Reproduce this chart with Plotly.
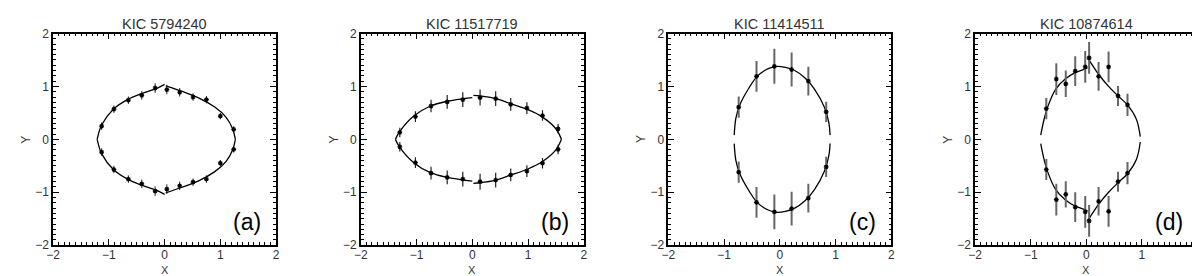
import plotly.graph_objects as go

titles = ["KIC 5794240", "KIC 11517719", "KIC 11414511", "KIC 10874614"]
labels = ["(a)", "(b)", "(c)", "(d)"]

# ---- panel (a) ----
a_x = [-1.13, -0.91, -0.65, -0.41, -0.17, 0.04, 0.27, 0.51, 0.75, 1.00, 1.24,
       -1.13, -0.91, -0.65, -0.41, -0.17, 0.04, 0.27, 0.51, 0.75, 1.00, 1.24]
a_y = [0.25, 0.57, 0.74, 0.83, 0.97, 0.94, 0.89, 0.80, 0.75, 0.44, 0.19,
       -0.24, -0.57, -0.75, -0.84, -0.98, -0.94, -0.88, -0.81, -0.75, -0.45, -0.19]
a_err = [0.07, 0.07, 0.07, 0.08, 0.09, 0.09, 0.08, 0.07, 0.07, 0.06, 0.06,
         0.07, 0.07, 0.07, 0.08, 0.09, 0.09, 0.08, 0.07, 0.07, 0.06, 0.06]
a_cx = [[-1.21, -1.13, -0.92, -0.65, -0.40, -0.15, 0.00],
        [0.02, 0.30, 0.60, 0.90, 1.10, 1.22, 1.27],
        [-1.21, -1.13, -0.92, -0.65, -0.40, -0.15, 0.00],
        [0.02, 0.30, 0.60, 0.90, 1.10, 1.22, 1.27]]
a_cy = [[0.00, 0.27, 0.57, 0.76, 0.87, 0.96, 1.04],
        [1.01, 0.91, 0.79, 0.61, 0.42, 0.20, 0.00],
        [0.00, -0.27, -0.57, -0.76, -0.87, -0.96, -1.04],
        [-1.01, -0.91, -0.79, -0.61, -0.42, -0.20, 0.00]]

# ---- panel (b) ----
b_x = [-1.30, -1.02, -0.74, -0.45, -0.17, 0.14, 0.42, 0.69, 0.98, 1.26, 1.54,
       -1.30, -1.02, -0.74, -0.45, -0.17, 0.14, 0.42, 0.69, 0.98, 1.26, 1.54]
b_y = [0.13, 0.43, 0.63, 0.71, 0.75, 0.79, 0.77, 0.66, 0.59, 0.45, 0.20,
       -0.14, -0.44, -0.64, -0.72, -0.75, -0.80, -0.77, -0.67, -0.60, -0.45, -0.19]
b_err = [0.09, 0.10, 0.12, 0.13, 0.14, 0.15, 0.14, 0.12, 0.11, 0.10, 0.09,
         0.09, 0.10, 0.12, 0.13, 0.14, 0.15, 0.14, 0.12, 0.11, 0.10, 0.09]
b_cx = [[-1.38, -1.30, -1.05, -0.75, -0.45, -0.15, 0.00],
        [0.02, 0.14, 0.42, 0.70, 1.00, 1.26, 1.50, 1.60],
        [-1.38, -1.30, -1.05, -0.75, -0.45, -0.15, 0.00],
        [0.02, 0.14, 0.42, 0.70, 1.00, 1.26, 1.50, 1.60]]
b_cy = [[0.00, 0.15, 0.44, 0.63, 0.72, 0.77, 0.79],
        [0.83, 0.82, 0.77, 0.67, 0.56, 0.42, 0.20, 0.00],
        [0.00, -0.15, -0.44, -0.63, -0.72, -0.77, -0.79],
        [-0.83, -0.82, -0.77, -0.67, -0.56, -0.42, -0.20, 0.00]]

# ---- panel (c) ----
c_x = [-0.74, -0.42, -0.10, 0.21, 0.51, 0.83,
       -0.74, -0.42, -0.10, 0.21, 0.51, 0.83]
c_y = [0.61, 1.19, 1.38, 1.32, 1.10, 0.52,
       -0.62, -1.19, -1.37, -1.31, -1.11, -0.52]
c_err = [0.20, 0.29, 0.33, 0.32, 0.27, 0.19,
         0.20, 0.29, 0.33, 0.32, 0.27, 0.19]
c_cx = [[-0.82, -0.79, -0.72, -0.55, -0.40, -0.20, -0.05, 0.10, 0.25, 0.45, 0.62, 0.80, 0.88, 0.90],
        [-0.82, -0.79, -0.72, -0.55, -0.40, -0.20, -0.05, 0.10, 0.25, 0.45, 0.62, 0.80, 0.88, 0.90]]
c_cy = [[0.08, 0.40, 0.65, 0.98, 1.20, 1.34, 1.38, 1.36, 1.31, 1.16, 0.95, 0.60, 0.30, 0.08],
        [-0.08, -0.40, -0.65, -0.98, -1.20, -1.34, -1.38, -1.36, -1.31, -1.16, -0.95, -0.60, -0.30, -0.08]]

# ---- panel (d) ----
d_x = [-0.72, -0.54, -0.37, -0.20, -0.02, 0.05, 0.22, 0.40, 0.57, 0.74,
       -0.72, -0.54, -0.37, -0.20, -0.02, 0.05, 0.22, 0.40, 0.57, 0.74]
d_y = [0.58, 1.14, 1.05, 1.29, 1.37, 1.54, 1.19, 1.37, 0.82, 0.65,
       -0.57, -1.14, -1.04, -1.28, -1.37, -1.54, -1.17, -1.36, -0.80, -0.64]
d_err = [0.20, 0.30, 0.25, 0.28, 0.30, 0.30, 0.27, 0.29, 0.19, 0.21,
         0.20, 0.30, 0.25, 0.28, 0.30, 0.30, 0.27, 0.29, 0.19, 0.21]
d_cx = [[-0.82, -0.76, -0.70, -0.55, -0.38, -0.20, -0.02, 0.02],
        [0.03, 0.22, 0.40, 0.57, 0.74, 0.90, 0.97],
        [-0.82, -0.76, -0.70, -0.55, -0.38, -0.20, -0.02, 0.02],
        [0.03, 0.22, 0.40, 0.57, 0.74, 0.90, 0.97]]
d_cy = [[0.08, 0.38, 0.60, 0.95, 1.14, 1.26, 1.33, 1.35],
        [1.53, 1.23, 1.00, 0.82, 0.65, 0.38, 0.05],
        [-0.08, -0.38, -0.60, -0.95, -1.14, -1.26, -1.33, -1.35],
        [-1.53, -1.23, -1.00, -0.82, -0.65, -0.38, -0.05]]

tick_vals = [-2, -1, 0, 1, 2]
tick_text = ["\u22122", "\u22121", "0", "1", "2"]

panels = [
    (a_x, a_y, a_err, a_cx, a_cy, "#222222", 1.0),
    (b_x, b_y, b_err, b_cx, b_cy, "#222222", 1.2),
    (c_x, c_y, c_err, c_cx, c_cy, "#666666", 2.0),
    (d_x, d_y, d_err, d_cx, d_cy, "#666666", 2.0),
]

W, H = 1200, 276
x_dom_px = [(38.5, 263.5), (349, 574), (659.5, 884.5), (969, 1193.5)]
y_dom_px = (19.5, 242.5)
y_dom = [(H - y_dom_px[1]) / H, (H - y_dom_px[0]) / H]

fig = go.Figure()
font = "Liberation Sans, Arial, sans-serif"

for i, (px, py, perr, cxs, cys, ecol, ethk) in enumerate(panels):
    n = "" if i == 0 else str(i + 1)
    xa, ya = "x" + n, "y" + n
    for cx, cy in zip(cxs, cys):
        fig.add_trace(go.Scatter(x=cx, y=cy, mode="lines", xaxis=xa, yaxis=ya,
                                 line=dict(color="black", width=1.3, shape="spline", smoothing=1.0),
                                 showlegend=False, hoverinfo="skip"))
    fig.add_trace(go.Scatter(
        x=px, y=py, mode="markers", xaxis=xa, yaxis=ya, showlegend=False,
        marker=dict(symbol="asterisk-open", size=4, color="black", line=dict(color="black", width=1.2)),
        error_y=dict(type="data", array=perr, visible=True, color=ecol, thickness=ethk, width=0),
    ))
    d0 = (x_dom_px[i][0] / W, x_dom_px[i][1] / W)
    axcommon = dict(range=[-2, 2], showgrid=False, zeroline=False, showline=True,
                    linecolor="black", linewidth=1.6, mirror="ticks", ticks="inside",
                    ticklen=6, tickwidth=1, tickcolor="black",
                    tickvals=tick_vals, ticktext=tick_text,
                    tickfont=dict(family=font, size=12, color="#333333"),
                    minor=dict(dtick=0.1, ticks="inside", ticklen=3, tickwidth=1, tickcolor="black"),
                    fixedrange=True)
    fig.layout["xaxis" + n] = dict(domain=list(d0), anchor=ya, ticklabelstandoff=-2, **axcommon)
    fig.layout["yaxis" + n] = dict(domain=y_dom, anchor=xa, **axcommon)
    cxp = (x_dom_px[i][0] + x_dom_px[i][1]) / 2 / W
    fig.add_annotation(text=titles[i], x=cxp, y=(H - 10) / H, xref="paper", yref="paper",
                       showarrow=False, xanchor="center", yanchor="middle",
                       font=dict(family=font, size=14.5, color="#333333"))
    fig.add_annotation(text="X", x=cxp, y=(H - 277) / H, xref="paper", yref="paper",
                       showarrow=False, xanchor="center", yanchor="bottom",
                       font=dict(family=font, size=11, color="#333333"))
    fig.add_annotation(text="Y", x=(x_dom_px[i][0] - 27) / W, y=(H - 131) / H,
                       xref="paper", yref="paper", textangle=-90,
                       showarrow=False, xanchor="center", yanchor="middle",
                       font=dict(family=font, size=12, color="#333333"))
    fig.add_annotation(text=labels[i], x=1.48, y=-1.56, xref=xa, yref=ya,
                       showarrow=False, xanchor="center", yanchor="middle",
                       font=dict(family=font, size=23, color="black"))

fig.update_layout(width=W, height=H, margin=dict(l=0, r=0, t=0, b=0),
                  paper_bgcolor="white", plot_bgcolor="white")
fig.write_html("out.html")
